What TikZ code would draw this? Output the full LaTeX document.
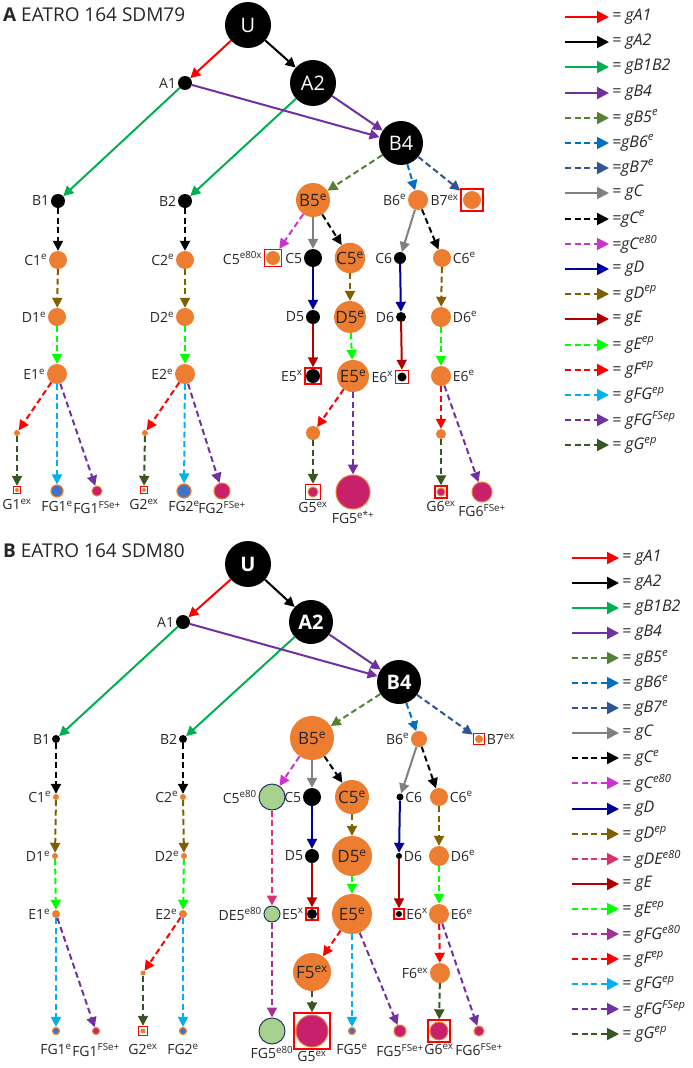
\documentclass[tikz,border=0pt]{standalone}
\usepackage{fontspec}
\setmainfont{Open Sans}
\usepackage{xcolor}
\usepackage{tikz}
\usetikzlibrary{arrows.meta}
\definecolor{Ink}{HTML}{262626}
\definecolor{cRed}{HTML}{FF0000}
\definecolor{cGreen}{HTML}{00B050}
\definecolor{cPurple}{HTML}{7030A0}
\definecolor{cOlive}{HTML}{548235}
\definecolor{cBlue}{HTML}{0070C0}
\definecolor{cSteel}{HTML}{2F5597}
\definecolor{cGray}{HTML}{808080}
\definecolor{cMagenta}{HTML}{CC33CC}
\definecolor{cNavy}{HTML}{000099}
\definecolor{cBrown}{HTML}{7F6000}
\definecolor{cPink}{HTML}{D8336F}
\definecolor{cMaroon}{HTML}{B00000}
\definecolor{cLime}{HTML}{00FF00}
\definecolor{cPlum}{HTML}{A3318F}
\definecolor{cSky}{HTML}{00B0F0}
\definecolor{cForest}{HTML}{375623}
\definecolor{Orng}{HTML}{ED7D31}
\definecolor{Magn}{HTML}{C8206A}
\definecolor{Blu}{HTML}{4472C4}
\definecolor{LtGrn}{HTML}{A9D18E}
\definecolor{Rim}{HTML}{1F3864}
\newcommand{\lblfont}{\fontsize{14}{14}\selectfont}
\newcommand{\inlfont}{\fontsize{17}{17}\selectfont}
\newcommand{\gsup}[1]{\textsuperscript{#1}}

\begin{document}
\begin{tikzpicture}[x=1pt,y=-1pt,
  arr/.style={line width=2pt,-{Triangle[length=10pt,width=10pt]}},
  darr/.style={arr,dash pattern=on 6pt off 3.5pt},
  gA1/.style={arr,cRed}, gA2/.style={arr,black}, gB1B2/.style={arr,cGreen},
  gB4/.style={arr,cPurple}, gB5e/.style={darr,cOlive}, gB6e/.style={darr,cBlue},
  gB7e/.style={darr,cSteel}, gC/.style={arr,cGray}, gCe/.style={darr,black},
  gCeight/.style={darr,cMagenta}, gD/.style={arr,cNavy}, gDep/.style={darr,cBrown},
  gDE/.style={darr,cPink}, gE/.style={arr,cMaroon}, gEep/.style={darr,cLime},
  gFGeight/.style={darr,cPlum}, gFep/.style={darr,cRed}, gFGep/.style={darr,cSky},
  gFGFS/.style={darr,cPurple}, gGep/.style={darr,cForest},
  lbl/.style={font=\lblfont,text=Ink,inner sep=1.5pt},
  lgd/.style={font=\fontsize{16}{16}\selectfont\itshape,text=Ink,inner sep=2pt},
  bigblk/.style={circle,fill=black,text=white,minimum size=46pt,inner sep=0pt,
    font=\fontsize{20}{20}\selectfont},
  blk/.style={circle,fill=black,minimum size=#1,inner sep=0pt},
  org/.style={circle,fill=Orng,minimum size=#1,inner sep=0pt,text=Ink,font=\inlfont},
  mag/.style={circle,fill=Magn,draw=Orng,line width=1pt,minimum size=#1,inner sep=0pt},
  blu/.style={circle,fill=Blu,draw=Orng,line width=1.2pt,minimum size=#1,inner sep=0pt},
  grn/.style={circle,fill=LtGrn,draw=Rim,line width=1pt,minimum size=#1,inner sep=0pt},
  boxorg/.style args={#1/#2}{rectangle,draw=cRed,line width=1.4pt,minimum size=#1,inner sep=0pt,
    path picture={\fill[Orng] (path picture bounding box.center) circle (#2);}},
  boxblk/.style args={#1/#2}{rectangle,draw=cRed,line width=1.4pt,minimum size=#1,inner sep=0pt,
    path picture={\fill[black] (path picture bounding box.center) circle (#2);}},
  boxmag/.style args={#1/#2}{rectangle,draw=cRed,line width=1.4pt,minimum size=#1,inner sep=0pt,
    path picture={\filldraw[fill=Magn,draw=Orng,line width=1pt] (path picture bounding box.center) circle (#2);}}
]
\useasboundingbox (0,0) rectangle (693,1068);

% ---------- panel A ----------
\node[anchor=west,font=\fontsize{19}{19}\selectfont,text=Ink,inner sep=0pt] (ttlA) at (3,15) {\textbf{A} EATRO 164 SDM79};
\node[bigblk] (aU) at (248,25) {U};
\node[blk=14pt,label={[lbl]left:A1}] (aA1) at (185,83) {};
\node[bigblk] (aA2) at (313,83) {A2};
\node[bigblk,minimum size=44pt] (aB4) at (401,143) {B4};
\node[blk=14pt,label={[lbl]left:B1}] (aB1) at (58,201) {};
\node[blk=14pt,label={[lbl]left:B2}] (aB2) at (185,201) {};
\node[org=34pt] (aB5) at (313,200) {B5\gsup{e}};
\node[org=20pt,label={[lbl]left:B6\gsup{e}}] (aB6) at (418,200) {};
\node[boxorg={22pt/9pt},label={[lbl]left:B7\gsup{ex}}] (aB7) at (472,200) {};

\node[org=18pt,label={[lbl]left:C1\gsup{e}}] (aC1) at (58,260) {};
\node[org=18pt,label={[lbl]left:C2\gsup{e}}] (aC2) at (185,260) {};
\node[boxorg={17pt/7pt},label={[lbl]left:C5\gsup{e80x}}] (aC5x) at (273,258) {};
\node[blk=18pt,label={[lbl]left:C5}] (aC5) at (313,258) {};
\node[org=26pt] (aC5e) at (350,258) {C5\gsup{e}};
\node[blk=12pt,label={[lbl]left:C6}] (aC6) at (400,258) {};
\node[org=18pt,label={[lbl]right:C6\gsup{e}}] (aC6e) at (442,258) {};

\node[org=18pt,label={[lbl]left:D1\gsup{e}}] (aD1) at (57,317) {};
\node[org=18pt,label={[lbl]left:D2\gsup{e}}] (aD2) at (185,317) {};
\node[blk=14pt,label={[lbl]left:D5}] (aD5) at (313,317) {};
\node[org=30pt] (aD5e) at (350,317) {D5\gsup{e}};
\node[blk=10pt,label={[lbl]left:D6}] (aD6) at (401,317) {};
\node[org=20pt,label={[lbl]right:D6\gsup{e}}] (aD6e) at (441,317) {};

\node[org=20pt,label={[lbl]left:E1\gsup{e}}] (aE1) at (57,374) {};
\node[org=20pt,label={[lbl]left:E2\gsup{e}}] (aE2) at (185,374) {};
\node[boxblk={16pt/7pt},label={[lbl]left:E5\gsup{x}}] (aE5) at (313,376) {};
\node[org=32pt] (aE5e) at (353,376) {E5\gsup{e}};
\node[boxblk={13pt/4.5pt},label={[lbl]left:E6\gsup{x}}] (aE6) at (402,377) {};
\node[org=20pt,label={[lbl]right:E6\gsup{e}}] (aE6e) at (441,376) {};

\node[org=6pt] (aF1) at (17,433) {};
\node[org=6pt] (aF2) at (145,433) {};
\node[org=14pt] (aF5) at (313,433) {};
\node[org=10pt] (aF6) at (441,434) {};

\node[boxorg={7pt/2pt},label={[lbl,label distance=3pt]below:G1\gsup{ex}}] (aG1) at (17,490) {};
\node[blu=12pt,label={[lbl,label distance=2pt]below:FG1\gsup{e}}] (aFG1) at (57,491) {};
\node[mag=10pt,label={[lbl,label distance=3pt]below:FG1\gsup{FSe+}}] (aFG1s) at (97,491) {};
\node[boxorg={7pt/2pt},label={[lbl,label distance=3pt]below:G2\gsup{ex}}] (aG2) at (144,490) {};
\node[blu=14pt,label={[lbl,label distance=1pt]below:FG2\gsup{e}}] (aFG2) at (184,491) {};
\node[mag=16pt,label={[lbl]below:FG2\gsup{FSe+}}] (aFG2s) at (222,491) {};
\node[boxmag={15pt/5pt},label={[lbl]below:G5\gsup{ex}}] (aG5) at (313,492) {};
\node[mag=34pt,label={[lbl]below:FG5\gsup{e*+}}] (aFG5) at (353,492) {};
\node[boxmag={12pt/4pt},label={[lbl,label distance=1pt]below:G6\gsup{ex}}] (aG6) at (441,492) {};
\node[mag=20pt,label={[lbl]below:FG6\gsup{FSe+}}] (aFG6) at (482,492) {};

\draw[gA1] (aU) -- (aA1);
\draw[gA2] (aU) -- (aA2);
\draw[gB1B2] (aA1) -- (aB1);
\draw[gB1B2] (aA2) -- (aB2);
\draw[gB4] (aA1) -- (aB4);
\draw[gB4] (aA2) -- (aB4);
\draw[gB5e] (aB4) -- (aB5);
\draw[gB6e] (aB4) -- (aB6);
\draw[gB7e] (aB4) -- (aB7);
\draw[gCe] (aB1) -- (aC1);
\draw[gCe] (aB2) -- (aC2);
\draw[gCeight] (aB5) -- (aC5x);
\draw[gC] (aB5) -- (aC5);
\draw[gCe] (aB5) -- (aC5e);
\draw[gC] (aB6) -- (aC6);
\draw[gCe] (aB6) -- (aC6e);
\draw[gDep] (aC1) -- (aD1);
\draw[gDep] (aC2) -- (aD2);
\draw[gD] (aC5) -- (aD5);
\draw[gDep] (aC5e) -- (aD5e);
\draw[gD] (aC6) -- (aD6);
\draw[gDep] (aC6e) -- (aD6e);
\draw[gEep] (aD1) -- (aE1);
\draw[gEep] (aD2) -- (aE2);
\draw[gE] (aD5) -- (aE5);
\draw[gEep] (aD5e) -- (aE5e);
\draw[gE] (aD6) -- (aE6);
\draw[gEep] (aD6e) -- (aE6e);
\draw[gFep] (aE1) -- (aF1);
\draw[gGep] (aF1) -- (aG1);
\draw[gFGep] (aE1) -- (aFG1);
\draw[gFGFS] (aE1) -- (aFG1s);
\draw[gFep] (aE2) -- (aF2);
\draw[gGep] (aF2) -- (aG2);
\draw[gFGep] (aE2) -- (aFG2);
\draw[gFGFS] (aE2) -- (aFG2s);
\draw[gFep] (aE5e) -- (aF5);
\draw[gGep] (aF5) -- (aG5);
\draw[gFGFS] (aE5e) -- (aFG5);
\draw[gFep] (aE6e) -- (aF6);
\draw[gGep] (aF6) -- (aG6);
\draw[gFGFS] (aE6e) -- (aFG6);

% legend A
\foreach \st/\txt [count=\i from 0, evaluate=\i as \yy using {round(17+25.2*\i)}] in {gA1/{= gA1}, gA2/{= gA2}, gB1B2/{= gB1B2}, gB4/{= gB4},
    gB5e/{= gB5\gsup{e}}, gB6e/{=gB6\gsup{e}}, gB7e/{=gB7\gsup{e}}, gC/{= gC}, gCe/{=gC\gsup{e}},
    gCeight/{=gC\gsup{e80}}, gD/{= gD}, gDep/{= gD\gsup{ep}}, gE/{= gE}, gEep/{= gE\gsup{ep}},
    gFep/{= gF\gsup{ep}}, gFGep/{= gFG\gsup{ep}}, gFGFS/{= gFG\gsup{FSep}}, gGep/{= gG\gsup{ep}}}
  \draw[\st,-{Triangle[length=12pt,width=12pt]}] (565,\yy) -- (609,\yy)
    node[lgd,right] {\txt};

% ---------- panel B ----------
\node[anchor=west,font=\fontsize{19}{19}\selectfont,text=Ink,inner sep=0pt] (ttlB) at (3,551) {\textbf{B} EATRO 164 SDM80};
\node[bigblk,font=\fontsize{20}{20}\selectfont\bfseries] (bU) at (248,564) {U};
\node[blk=14pt,label={[lbl]left:A1}] (bA1) at (183,622) {};
\node[bigblk,font=\fontsize{20}{20}\selectfont\bfseries,minimum size=44pt] (bA2) at (311,622) {A2};
\node[bigblk,font=\fontsize{20}{20}\selectfont\bfseries,minimum size=44pt] (bB4) at (399,682) {B4};
\node[blk=8pt,label={[lbl]left:B1}] (bB1) at (56,739) {};
\node[blk=8pt,label={[lbl]left:B2}] (bB2) at (183,739) {};
\node[org=44pt] (bB5) at (312,738) {B5\gsup{e}};
\node[org=16pt,label={[lbl]left:B6\gsup{e}}] (bB6) at (419,739) {};
\node[boxorg={11pt/4pt},label={[lbl]right:B7\gsup{ex}}] (bB7) at (479,739) {};

\node[org=6pt,label={[lbl]left:C1\gsup{e}}] (bC1) at (56,797) {};
\node[org=6pt,label={[lbl]left:C2\gsup{e}}] (bC2) at (183,797) {};
\node[grn=26pt,label={[lbl]left:C5\gsup{e80}}] (bC5x) at (272,797) {};
\node[blk=18pt,label={[lbl]left:C5}] (bC5) at (312,797) {};
\node[org=34pt] (bC5e) at (352,797) {C5\gsup{e}};
\node[blk=7pt,label={[lbl]right:C6}] (bC6) at (400,797) {};
\node[org=18pt,label={[lbl]right:C6\gsup{e}}] (bC6e) at (439,797) {};

\node[org=6pt,label={[lbl]left:D1\gsup{e}}] (bD1) at (55,856) {};
\node[org=6pt,label={[lbl]left:D2\gsup{e}}] (bD2) at (184,856) {};
\node[blk=14pt,label={[lbl]left:D5}] (bD5) at (312,856) {};
\node[org=40pt] (bD5e) at (352,856) {D5\gsup{e}};
\node[blk=6pt,label={[lbl]right:D6}] (bD6) at (399,856) {};
\node[org=20pt,label={[lbl]right:D6\gsup{e}}] (bD6e) at (439,856) {};

\node[org=8pt,label={[lbl]left:E1\gsup{e}}] (bE1) at (56,914) {};
\node[org=8pt,label={[lbl]left:E2\gsup{e}}] (bE2) at (183,914) {};
\node[grn=16pt,label={[lbl]left:DE5\gsup{e80}}] (bDE5) at (272,914) {};
\node[boxblk={12pt/5pt},label={[lbl]left:E5\gsup{x}}] (bE5) at (312,914) {};
\node[org=40pt] (bE5e) at (352,914) {E5\gsup{e}};
\node[boxblk={10pt/3pt},label={[lbl]right:E6\gsup{x}}] (bE6) at (399,914) {};
\node[org=20pt,label={[lbl]right:E6\gsup{e}}] (bE6e) at (439,914) {};

\node[org=5pt] (bF2) at (143,973) {};
\node[org=38pt] (bF5) at (312,972) {F5\gsup{ex}};
\node[org=20pt,label={[lbl]left:F6\gsup{ex}}] (bF6) at (440,973) {};

\node[blu=7pt,label={[lbl,label distance=7pt]below:FG1\gsup{e}}] (bFG1) at (56,1031) {};
\node[mag=7pt,label={[lbl,label distance=7pt]below:FG1\gsup{FSe+}}] (bFG1s) at (96,1031) {};
\node[boxorg={9pt/2.5pt},label={[lbl,label distance=6pt]below:G2\gsup{ex}}] (bG2) at (143,1031) {};
\node[blu=7pt,label={[lbl,label distance=7pt]below:FG2\gsup{e}}] (bFG2) at (183,1031) {};
\node[grn=26pt,label={[lbl]below:FG5\gsup{e80}}] (bFG5x) at (272,1031) {};
\node[boxmag={36pt/16pt},label={[lbl]below:G5\gsup{ex}}] (bG5) at (312,1031) {};
\node[blu=7pt,label={[lbl,label distance=7pt]below:FG5\gsup{e}}] (bFG5e) at (352,1031) {};
\node[mag=12pt,label={[lbl,label distance=5pt]below:FG5\gsup{FSe+}}] (bFG5s) at (400,1031) {};
\node[boxmag={22pt/9pt},label={[lbl]below:G6\gsup{ex}}] (bG6) at (439,1031) {};
\node[mag=10pt,label={[lbl,label distance=5pt]below:FG6\gsup{FSe+}}] (bFG6) at (479,1031) {};

\draw[gA1] (bU) -- (bA1);
\draw[gA2] (bU) -- (bA2);
\draw[gB1B2] (bA1) -- (bB1);
\draw[gB1B2] (bA2) -- (bB2);
\draw[gB4] (bA1) -- (bB4);
\draw[gB4] (bA2) -- (bB4);
\draw[gB5e] (bB4) -- (bB5);
\draw[gB6e] (bB4) -- (bB6);
\draw[gB7e] (bB4) -- (bB7);
\draw[gCe] (bB1) -- (bC1);
\draw[gCe] (bB2) -- (bC2);
\draw[gCeight] (bB5) -- (bC5x);
\draw[gC] (bB5) -- (bC5);
\draw[gCe] (bB5) -- (bC5e);
\draw[gC] (bB6) -- (bC6);
\draw[gCe] (bB6) -- (bC6e);
\draw[gDep] (bC1) -- (bD1);
\draw[gDep] (bC2) -- (bD2);
\draw[gDE] (bC5x) -- (bDE5);
\draw[gD] (bC5) -- (bD5);
\draw[gDep] (bC5e) -- (bD5e);
\draw[gD] (bC6) -- (bD6);
\draw[gDep] (bC6e) -- (bD6e);
\draw[gEep] (bD1) -- (bE1);
\draw[gEep] (bD2) -- (bE2);
\draw[gE] (bD5) -- (bE5);
\draw[gEep] (bD5e) -- (bE5e);
\draw[gE] (bD6) -- (bE6);
\draw[gEep] (bD6e) -- (bE6e);
\draw[gFGep] (bE1) -- (bFG1);
\draw[gFGFS] (bE1) -- (bFG1s);
\draw[gFep] (bE2) -- (bF2);
\draw[gGep] (bF2) -- (bG2);
\draw[gFGep] (bE2) -- (bFG2);
\draw[gFGeight] (bDE5) -- (bFG5x);
\draw[gFep] (bE5e) -- (bF5);
\draw[gGep] (bF5) -- (bG5);
\draw[gFGep] (bE5e) -- (bFG5e);
\draw[gFGFS] (bE5e) -- (bFG5s);
\draw[gFep] (bE6e) -- (bF6);
\draw[gGep] (bF6) -- (bG6);
\draw[gFGFS] (bE6e) -- (bFG6);

% legend B
\foreach \st/\txt [count=\i from 0, evaluate=\i as \yy using {round(558+25.05*\i)}] in {gA1/{= gA1}, gA2/{= gA2}, gB1B2/{= gB1B2}, gB4/{= gB4},
    gB5e/{= gB5\gsup{e}}, gB6e/{= gB6\gsup{e}}, gB7e/{= gB7\gsup{e}}, gC/{= gC}, gCe/{= gC\gsup{e}},
    gCeight/{= gC\gsup{e80}}, gD/{= gD}, gDep/{= gD\gsup{ep}}, gDE/{= gDE\gsup{e80}}, gE/{= gE},
    gEep/{= gE\gsup{ep}}, gFGeight/{= gFG\gsup{e80}}, gFep/{= gF\gsup{ep}}, gFGep/{= gFG\gsup{ep}},
    gFGFS/{= gFG\gsup{FSep}}, gGep/{= gG\gsup{ep}}}
  \draw[\st,-{Triangle[length=12pt,width=12pt]}] (572,\yy) -- (619,\yy)
    node[lgd,right] {\txt};
\end{tikzpicture}
\end{document}
